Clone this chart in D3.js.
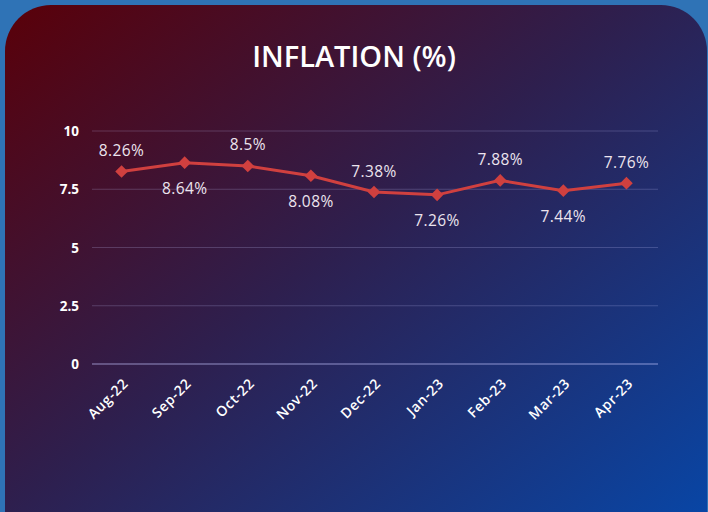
<!DOCTYPE html>
<html><head><meta charset="utf-8">
<script src="https://cdn.jsdelivr.net/npm/d3@7"></script>
<style>html,body{margin:0;padding:0;background:#2f73b6;overflow:hidden}</style>
</head><body>
<svg id="c" width="708" height="512"></svg>
<script>
const categories = ["Aug-22","Sep-22","Oct-22","Nov-22","Dec-22","Jan-23","Feb-23","Mar-23","Apr-23"];
const values = [8.26,8.64,8.5,8.08,7.38,7.26,7.88,7.44,7.76];
const labels = ["8.26%","8.64%","8.5%","8.08%","7.38%","7.26%","7.88%","7.44%","7.76%"];
const yTicks = [0,2.5,5,7.5,10];
const yTickLabels = ["0","2.5","5","7.5","10"];

const svg = d3.select("#c");
const defs = svg.append("defs");
const g1 = defs.append("linearGradient").attr("id","bg").attr("x1","0").attr("y1","0").attr("x2","1").attr("y2","1");
g1.append("stop").attr("offset","0%").attr("stop-color","#5a0009");
g1.append("stop").attr("offset","45%").attr("stop-color","#2e1f4e");
g1.append("stop").attr("offset","100%").attr("stop-color","#0549ad");

svg.append("rect").attr("width",708).attr("height",512).attr("fill","#2f73b6");
svg.append("rect").attr("x",5).attr("y",5).attr("width",702).attr("height",560).attr("rx",46).attr("fill","url(#bg)");

const F = "'Open Sans', Lato, sans-serif";
svg.append("text").attr("x",354).attr("y",66.5).attr("text-anchor","middle")
  .attr("font-family",F).attr("font-weight",600).attr("font-size",29)
  .attr("fill","#ffffff").text("INFLATION (%)");

const x = d3.scaleBand().domain(categories).range([90,658]);
const y = d3.scaleLinear().domain([0,10]).range([364,131]);

const grid = svg.append("g");
yTicks.forEach((t,i)=>{
  grid.append("line").attr("x1",92).attr("x2",658).attr("y1",y(t)).attr("y2",y(t))
    .attr("stroke", t===0 ? "rgba(200,200,255,0.45)" : "rgba(200,200,255,0.22)").attr("stroke-width", t===0?1.5:1);
  grid.append("text").attr("x",79).attr("y",y(t)+5).attr("text-anchor","end")
    .attr("font-family",F).attr("font-weight",700).attr("font-size",13.5)
    .attr("fill","#ffffff").text(yTickLabels[i]);
});

const cx = d=>x(d)+x.bandwidth()/2;
svg.append("g").selectAll("text").data(categories).join("text")
  .attr("transform",d=>`translate(${cx(d)+4},${381}) rotate(-45)`)
  .attr("text-anchor","end").attr("dy","0.35em")
  .attr("font-family",F).attr("font-weight",600).attr("font-size",14).attr("letter-spacing",0.6)
  .attr("fill","#ffffff").text(d=>d);

const line = d3.line().x((d,i)=>cx(categories[i])).y(d=>y(d));
svg.append("path").datum(values).attr("d",line).attr("fill","none").attr("stroke","#d0403f").attr("stroke-width",3);

const sym = d3.symbol().type(d3.symbolSquare).size(80);
svg.append("g").selectAll("path").data(values).join("path")
  .attr("transform",(d,i)=>`translate(${cx(categories[i])},${y(d)}) rotate(45)`)
  .attr("d",sym).attr("fill","#d0403f");

svg.append("g").selectAll("text").data(values).join("text")
  .attr("x",(d,i)=>cx(categories[i]))
  .attr("y",(d,i)=> i%2===0 ? y(d)-15.5 : y(d)+31)
  .attr("text-anchor","middle")
  .attr("font-family",F).attr("font-size",15.5).attr("letter-spacing",0.4)
  .attr("fill","#ece4ee").text((d,i)=>labels[i]);
</script>
</body></html>
